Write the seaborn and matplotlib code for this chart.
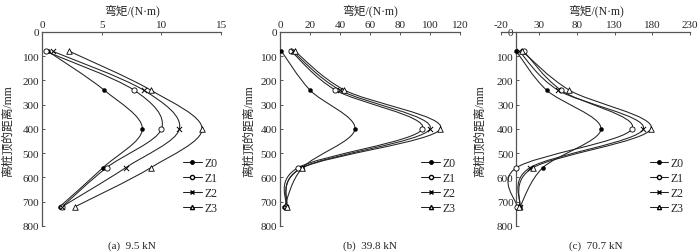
import numpy as np
import pandas as pd
import matplotlib
matplotlib.use("Agg")
import matplotlib.pyplot as plt
import seaborn as sns
from matplotlib.path import Path
from matplotlib.patches import PathPatch
from matplotlib.lines import Line2D

# depth below pile top (mm) and bending moment (N·m) per pile group
depth = [80, 240, 400, 560, 720]
series = ["Z0", "Z1", "Z2", "Z3"]

a_vals = {"Z0": [0.5, 5.2, 8.4, 5.1, 1.5],
          "Z1": [0.3, 7.7, 10.0, 5.4, 1.7],
          "Z2": [0.9, 8.5, 11.5, 7.0, 1.7],
          "Z3": [2.3, 9.1, 13.4, 9.1, 2.8]}
b_vals = {"Z0": [1, 20, 50, 15, 3],
          "Z1": [7.5, 37, 95, 12, 4],
          "Z2": [8.5, 40, 100, 14.5, 4],
          "Z3": [10, 43, 107, 15, 4.5]}
c_vals = {"Z0": [0, 40, 112, 35, 5],
          "Z1": [10, 59, 153, 0, 1],
          "Z2": [4, 55, 168, 18, 5],
          "Z3": [8, 70, 178, 22, 4]}

captions = ["(a)  9.5 kN", "(b)  39.8 kN", "(c)  70.7 kN"]
xlims = [(0, 15), (0, 120), (-20, 230)]
xticks = [[0, 5, 10, 15], [0, 20, 40, 60, 80, 100, 120], [-20, 30, 80, 130, 180, 230]]
yticks = [0, 100, 200, 300, 400, 500, 600, 700, 800]

sns.set_style("ticks")
plt.rcParams["font.family"] = ["Liberation Serif", "Noto Sans CJK SC"]
plt.rcParams["font.size"] = 8
plt.rcParams["axes.unicode_minus"] = False

fig = plt.figure(figsize=(7, 2.53), dpi=100)
boxes = [[0.060, 0.103, 0.256, 0.767],
         [0.400, 0.103, 0.257, 0.767],
         [0.716, 0.103, 0.270, 0.767]]

mk = {"Z0": dict(marker="o", color="black", edgecolor="black", s=9),
      "Z1": dict(marker="o", color="white", edgecolor="black", s=14, linewidth=0.6),
      "Z2": dict(marker="x", color="black", s=14, linewidth=0.7),
      "Z3": dict(marker="^", color="white", edgecolor="black", s=16, linewidth=0.6)}
leg_mk = {"Z0": dict(marker="o", mfc="black", mec="black", ms=2.5),
          "Z1": dict(marker="o", mfc="white", mec="black", ms=3),
          "Z2": dict(marker="x", mfc="black", mec="black", ms=3),
          "Z3": dict(marker="^", mfc="white", mec="black", ms=3)}


def smooth_path(xs, ys):
    # Catmull-Rom style Bezier (like spreadsheet "smoothed line")
    pts = np.column_stack([xs, ys]).astype(float)
    ext = np.vstack([pts[0], pts, pts[-1]])
    verts = [pts[0]]
    codes = [Path.MOVETO]
    for i in range(1, len(ext) - 2):
        p0, p1, p2, p3 = ext[i - 1], ext[i], ext[i + 1], ext[i + 2]
        verts += [p1 + (p2 - p0) / 6, p2 - (p3 - p1) / 6, p2]
        codes += [Path.CURVE4] * 3
    return Path(verts, codes)


for k, vals in enumerate([a_vals, b_vals, c_vals]):
    ax = fig.add_axes(boxes[k])
    for s in series:
        ax.add_patch(PathPatch(smooth_path(vals[s], depth), fc="none",
                               ec="#222222", lw=0.75, zorder=2))
        df = pd.DataFrame({"m": vals[s], "d": depth})
        sns.scatterplot(data=df, x="m", y="d", ax=ax, zorder=3, legend=False, **mk[s])

    ax.set_xlim(*xlims[k])
    ax.set_ylim(800, 0)
    ax.set_xticks(xticks[k])
    ax.set_yticks(yticks)
    ax.xaxis.tick_top()
    ax.spines["bottom"].set_visible(False)
    ax.spines["right"].set_visible(False)
    if k == 2:
        ax.spines["left"].set_position(("data", 0))
    for sp in ["top", "left"]:
        ax.spines[sp].set_color("#555555")
        ax.spines[sp].set_linewidth(0.9)
    ax.tick_params(axis="both", direction="in", length=2, width=0.7,
                   color="#555555", labelsize=8, pad=2)
    ax.set_xlabel("")
    ax.set_ylabel("")

    cx = boxes[k][0] + boxes[k][2] / 2
    fig.text(cx, 0.955, "弯矩/(N·m)", ha="center", va="center", fontsize=8.5)
    fig.text(cx, 0.025, captions[k], ha="center", va="center", fontsize=8)
    lx = [0.012, 0.355, 0.686][k]
    fig.text(lx, 0.48, "离桩顶的距离/mm", rotation=90, ha="center", va="center", fontsize=8.5)

    handles = [Line2D([], [], color="#222222", lw=0.75, **leg_mk[s]) for s in series]
    ax.legend(handles, series, loc="upper left", bbox_to_anchor=(0.76, 0.38),
              frameon=False, handlelength=1.6, handletextpad=0.2,
              labelspacing=0.25, borderaxespad=0, fontsize=8.5)

fig.savefig("out.png", dpi=100)
